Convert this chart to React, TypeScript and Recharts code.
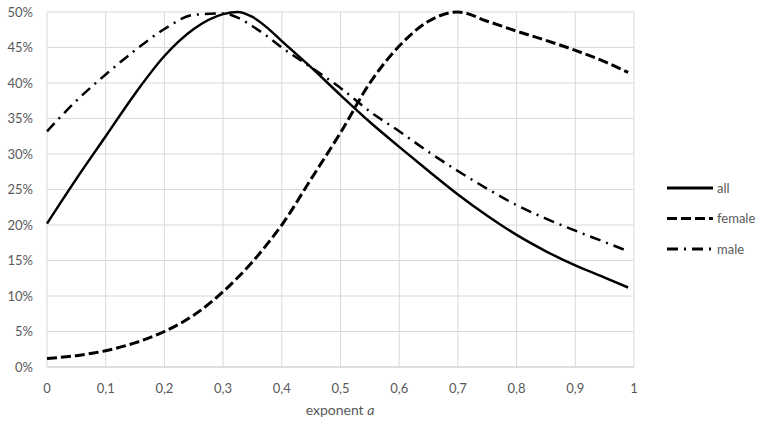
import React from "react";
import {
  LineChart,
  Line,
  XAxis,
  YAxis,
  CartesianGrid,
} from "recharts";

const exponents = [0, 0.05, 0.1, 0.15, 0.2, 0.25, 0.3, 0.325, 0.35, 0.375, 0.4, 0.45, 0.5, 0.55, 0.6, 0.65, 0.7, 0.75, 0.8, 0.85, 0.9, 0.95, 0.99];
const allShare = [20.2, 26.5, 32.5, 38.5, 43.8, 47.6, 49.7, 50.0, 49.3, 47.8, 45.9, 42.2, 38.3, 34.5, 31.0, 27.6, 24.3, 21.3, 18.6, 16.3, 14.3, 12.6, 11.2];
const femaleShare = [1.2, 1.6, 2.3, 3.4, 5.0, 7.3, 10.6, 12.6, 14.8, 17.3, 20.0, 26.5, 33.0, 40.0, 45.2, 48.7, 50.0, 48.7, 47.3, 46.0, 44.6, 43.0, 41.5];
const maleShare = [33.2, 37.5, 41.2, 44.6, 47.6, 49.6, 49.8, 49.2, 48.0, 46.6, 45.0, 42.2, 39.3, 36.0, 33.2, 30.3, 27.6, 25.1, 22.8, 20.9, 19.2, 17.6, 16.3];

const xTicks = [0, 0.1, 0.2, 0.3, 0.4, 0.5, 0.6, 0.7, 0.8, 0.9, 1];
const yTicks = [0, 5, 10, 15, 20, 25, 30, 35, 40, 45, 50];

const series = [
  { key: "all", dash: undefined, width: 2.5 },
  { key: "female", dash: "10 4", width: 3 },
  { key: "male", dash: "11 6 2 6", width: 2.5 },
];

const data = exponents.map((x, i) => ({
  x,
  all: allShare[i],
  female: femaleShare[i],
  male: maleShare[i],
}));

const font = "Lato, 'Open Sans', sans-serif";
const gray = "#595959";

// legend drawn by hand so the dash patterns match the lines
const ChartLegend = () => (
  <svg width={100} height={90} style={{ position: "absolute", left: 665, top: 178 }}>
    {series.map((s, i) => (
      <g key={s.key}>
        <line
          x1={2}
          x2={48}
          y1={10 + i * 30.5}
          y2={10 + i * 30.5}
          stroke="#000"
          strokeWidth={3}
          strokeDasharray={s.dash}
        />
        <text
          x={52}
          y={10 + i * 30.5}
          dy="0.35em"
          fontSize={13}
          fill={gray}
          fontFamily={font}
        >
          {s.key}
        </text>
      </g>
    ))}
  </svg>
);

const renderAxisTitle = () => (
  <text x={340} y={410} textAnchor="middle" dy="0.35em" fontSize={14} fill={gray} fontFamily={font}>
    exponent <tspan fontStyle="italic">a</tspan>
  </text>
);

export default function App() {
  return (
    <div style={{ position: "absolute", left: 0, top: 0, width: 768, height: 428, background: "#fff" }}>
      <LineChart
        width={768}
        height={428}
        data={data}
        margin={{ top: 12, right: 134, bottom: 21, left: 0 }}
      >
        <CartesianGrid stroke="#d9d9d9" strokeWidth={1} />
        <XAxis
          dataKey="x"
          type="number"
          domain={[0, 1]}
          ticks={xTicks}
          tickFormatter={(v: number) => String(v).replace(".", ",")}
          height={40}
          tickLine={false}
          tickSize={6}
          tickMargin={11}
          axisLine={{ stroke: "#d0d0d0" }}
          tick={{ fontSize: 13, fill: gray, fontFamily: font }}
          label={renderAxisTitle}
        />
        <YAxis
          type="number"
          domain={[0, 50]}
          ticks={yTicks}
          tickFormatter={(v: number) => `${v}%`}
          width={47}
          tickLine={false}
          axisLine={false}
          tickSize={6}
          tickMargin={8}
          tick={{ fontSize: 13, fill: gray, fontFamily: font }}
        />
        {series.map((s) => (
          <Line
            key={s.key}
            dataKey={s.key}
            type="monotone"
            stroke="#000"
            strokeWidth={s.width}
            strokeDasharray={s.dash}
            dot={false}
            isAnimationActive={false}
          />
        ))}
      </LineChart>
      <ChartLegend />
    </div>
  );
}
